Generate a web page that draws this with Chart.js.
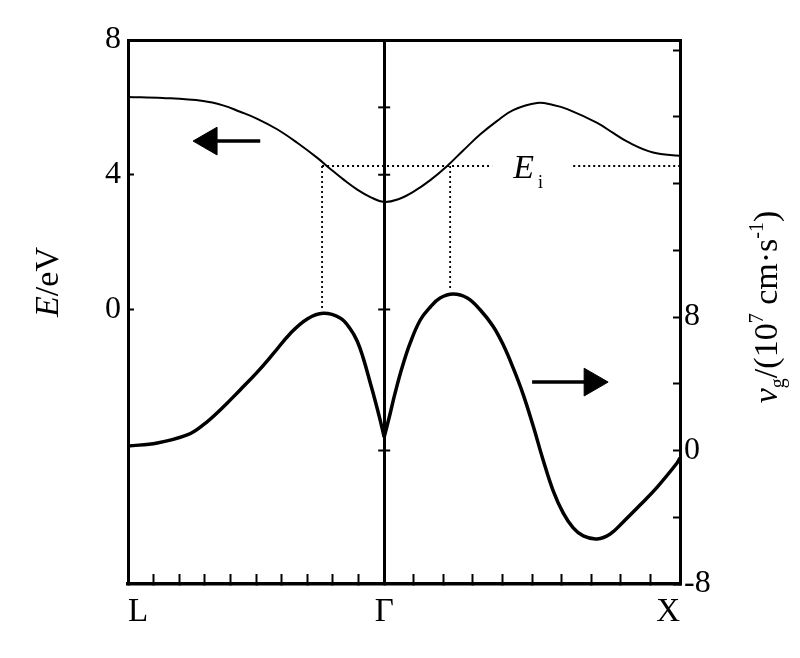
<!DOCTYPE html>
<html>
<head>
<meta charset="utf-8">
<script src="https://cdn.jsdelivr.net/npm/chart.js@4.4.1/dist/chart.umd.min.js"></script>
<style>
html, body { margin: 0; padding: 0; background: #fff; }
#wrap { width: 800px; height: 658px; position: relative; }
</style>
</head>
<body>
<div id="wrap"><canvas id="chart"></canvas></div>
<script>
// --- k axis: L -> Γ -> X ---
const kL = -0.866, kG = 0, kX = 1;
const xTickNames = ['L', 'Γ', 'X'];

// --- band E(k), left axis (eV) ---
const kBand = [-0.866, -0.749, -0.612, -0.545, -0.487, -0.429, -0.362, -0.294, -0.226, -0.183, -0.135, -0.091, -0.045, 0,
               0.050, 0.098, 0.156, 0.213, 0.267, 0.325, 0.382, 0.436, 0.517, 0.571, 0.619, 0.720, 0.774, 0.822, 0.909, 1.0];
const eBand = [6.31, 6.28, 6.19, 6.06, 5.87, 5.66, 5.35, 4.95, 4.50, 4.18, 3.84, 3.56, 3.33, 3.19,
               3.28, 3.49, 3.84, 4.26, 4.72, 5.20, 5.60, 5.92, 6.13, 6.07, 5.95, 5.54, 5.24, 4.98, 4.66, 4.56];

// --- group velocity, right axis (10^7 cm/s) ---
const kVgLeft = [-0.866, -0.767, -0.666, -0.612, -0.544, -0.487, -0.429, -0.375, -0.318, -0.260, -0.206,
                 -0.149, -0.115, -0.091, -0.071, -0.047, -0.030, -0.014, 0];
const vgLeft  = [0.27, 0.45, 0.93, 1.53, 2.61, 3.63, 4.70, 5.80, 7.00, 7.88, 8.22,
                 7.94, 7.30, 6.55, 5.55, 4.05, 2.95, 1.85, 0.80];
const kVgRight = [0, 0.020, 0.037, 0.061, 0.088, 0.122, 0.156, 0.189, 0.233, 0.281, 0.325, 0.368, 0.402, 0.436,
                  0.470, 0.504, 0.537, 0.571, 0.605, 0.639, 0.673, 0.720, 0.764, 0.808, 0.865, 0.923, 0.990, 1.0];
const vgRight  = [0.80, 2.20, 3.45, 5.00, 6.45, 7.82, 8.60, 9.14, 9.38, 9.14, 8.42, 7.45, 6.35, 4.95,
                  3.35, 1.45, -0.55, -2.40, -3.74, -4.64, -5.12, -5.30, -5.00, -4.28, -3.27, -2.19, -0.75, -0.45];

// --- threshold E_i and drop lines to the v_g peaks ---
const eIon = 4.26;
const kIonA = [-0.21, 0.365], kIonB = [0.639, 1.0];
const kDropL = -0.21, eDropL = 0.0;
const kDropR = 0.223, eDropR = 0.58;
const kIonLabel = 0.436, eIonLabel = 3.90;

// small marks on the Γ line
const gammaMarksE = [6, 4, 0];
const gammaMarksVg = [0];

// --- arrows (which axis each curve belongs to) ---
const arrowE  = { k: [-0.419, -0.592], y: 5.0 };
const arrowVg = { k: [0.500, 0.703], y: 4.1 };

// --- ticks ---
const yLeftTicks = [0, 4, 8];
const yRightTicks = [-8, -4, 0, 4, 8, 12, 16, 20, 24];
const yRightShown = [-8, 0, 8];

const kTicks = [];
for (let i = 0; i <= 10; i++) kTicks.push(kL * (1 - i / 10));
for (let i = 1; i <= 10; i++) kTicks.push(kX * i / 10);

const zip = (xs, ys) => xs.map((x, i) => ({ x: x, y: ys[i] }));
const isGamma = (c) => c.tick && Math.abs(c.tick.value - kG) < 1e-9;
const serif = "'Liberation Serif', serif";

function xLabel(v) {
    if (Math.abs(v - kL) < 1e-6) return xTickNames[0];
    if (Math.abs(v - kG) < 1e-6) return xTickNames[1];
    if (Math.abs(v - kX) < 1e-6) return xTickNames[2];
    return '';
}

// rich text (italic / sub / sup) for axis titles and E_i
function drawRich(ctx, parts, cx, cy, vertical, centered) {
    ctx.save();
    ctx.fillStyle = '#000';
    ctx.textBaseline = 'alphabetic';
    ctx.textAlign = 'left';
    let total = 0;
    parts.forEach(p => { ctx.font = p.font; p.w = ctx.measureText(p.text).width + (p.dx || 0); total += p.w; });
    ctx.translate(cx, cy);
    if (vertical) ctx.rotate(-Math.PI / 2);
    let x = centered ? -total / 2 : 0;
    parts.forEach(p => { ctx.font = p.font; ctx.fillText(p.text, x + (p.dx || 0), p.dy || 0); x += p.w; });
    ctx.restore();
}

const titlesPlugin = {
    id: 'titles',
    afterDraw(chart) {
        const ctx = chart.ctx, a = chart.chartArea;
        const midY = (a.top + a.bottom) / 2;
        drawRich(ctx, [
            { text: 'E', font: 'italic 34px ' + serif },
            { text: '/eV', font: '34px ' + serif }
        ], 58, midY - 30, true, true);
        drawRich(ctx, [
            { text: 'v', font: 'italic 34px ' + serif },
            { text: 'g', font: '20px ' + serif, dy: 7 },
            { text: '/(10', font: '34px ' + serif },
            { text: '7', font: '20px ' + serif, dy: -14 },
            { text: ' cm·s', font: '34px ' + serif },
            { text: '-1', font: '20px ' + serif, dy: -14 },
            { text: ')', font: '34px ' + serif }
        ], a.right + 97, midY - 5, true, true);
        const x = chart.scales.x.getPixelForValue(kIonLabel);
        const y = chart.scales.y.getPixelForValue(eIonLabel);
        drawRich(ctx, [
            { text: 'E', font: 'italic 34px ' + serif },
            { text: 'i', font: '18px ' + serif, dy: 10, dx: 4 }
        ], x, y, false, false);
    }
};

const dotted = { borderColor: '#000', borderWidth: 1.8, borderDash: [2, 3], pointRadius: 0, yAxisID: 'y' };
const curve = { borderColor: '#000', pointRadius: 0, tension: 0.4 };
const marks = { showLine: false, pointStyle: 'line', pointRadius: 6, pointBorderWidth: 2, pointBorderColor: '#000' };

new Chart(document.getElementById('chart'), {
    type: 'line',
    data: {
        datasets: [
            Object.assign({ data: zip(kBand, eBand), yAxisID: 'y', borderWidth: 2 }, curve),
            Object.assign({ data: zip(kVgLeft, vgLeft), yAxisID: 'y2', borderWidth: 3.5 }, curve),
            Object.assign({ data: zip(kVgRight, vgRight), yAxisID: 'y2', borderWidth: 3.5 }, curve),
            Object.assign({ data: zip(kIonA, [eIon, eIon]) }, dotted),
            Object.assign({ data: zip(kIonB, [eIon, eIon]) }, dotted),
            Object.assign({ data: zip([kDropL, kDropL], [eIon, eDropL]) }, dotted),
            Object.assign({ data: zip([kDropR, kDropR], [eIon, eDropR]) }, dotted),
            Object.assign({ data: gammaMarksE.map(v => ({ x: kG, y: v })), yAxisID: 'y' }, marks),
            Object.assign({ data: gammaMarksVg.map(v => ({ x: kG, y: v })), yAxisID: 'y2' }, marks),
            { data: zip(arrowE.k, [arrowE.y, arrowE.y]), yAxisID: 'y', borderColor: '#000', borderWidth: 3.5,
              pointRadius: [0, 16], pointStyle: 'triangle', pointRotation: [0, -90], pointBackgroundColor: '#000', pointBorderColor: '#000', pointBorderWidth: 1 },
            { data: zip(arrowVg.k, [arrowVg.y, arrowVg.y]), yAxisID: 'y2', borderColor: '#000', borderWidth: 3.5,
              pointRadius: [0, 16], pointStyle: 'triangle', pointRotation: [0, 90], pointBackgroundColor: '#000', pointBorderColor: '#000', pointBorderWidth: 1 }
        ]
    },
    options: {
        responsive: true,
        maintainAspectRatio: false,
        animation: false,
        layout: { padding: 0 },
        plugins: { legend: { display: false }, tooltip: { enabled: false } },
        scales: {
            x: {
                type: 'linear', position: 'bottom', min: kL, max: kX,
                afterBuildTicks: s => { s.ticks = kTicks.map(v => ({ value: v })); },
                afterFit: s => { s.height = 74; },
                grid: {
                    drawOnChartArea: true,
                    color: c => isGamma(c) ? '#000' : 'rgba(0,0,0,0)',
                    lineWidth: c => isGamma(c) ? 3 : 1,
                    tickColor: '#000', tickWidth: 2, tickLength: -10
                },
                border: { color: '#000', width: 3.5 },
                ticks: { autoSkip: false, maxRotation: 0, align: 'inner', padding: 19, color: '#000',
                         font: { family: serif, size: 33 }, callback: v => xLabel(v) }
            },
            xTop: {
                type: 'linear', position: 'top',
                afterFit: s => { s.height = 40; },
                grid: { display: false, drawTicks: false },
                border: { color: '#000', width: 3 },
                ticks: { display: false }
            },
            y: {
                position: 'left', min: -8.15, max: 8,
                afterBuildTicks: s => { s.ticks = yLeftTicks.map(v => ({ value: v })); },
                afterFit: s => { s.width = 128; },
                grid: { drawOnChartArea: false, tickColor: '#000', tickWidth: 2, tickLength: -6 },
                border: { color: '#000', width: 3 },
                ticks: { padding: 13, color: '#000', font: { family: serif, size: 32 }, callback: v => String(v) }
            },
            y2: {
                position: 'right', min: -8, max: 24.6,
                afterBuildTicks: s => { s.ticks = yRightTicks.map(v => ({ value: v })); },
                afterFit: s => { s.width = 120; },
                grid: { drawOnChartArea: false, tickColor: '#000', tickWidth: 2, tickLength: -7 },
                border: { color: '#000', width: 3 },
                ticks: { padding: 11, color: '#000', font: { family: serif, size: 32 },
                         callback: v => yRightShown.includes(v) ? String(v) : '' }
            }
        }
    },
    plugins: [titlesPlugin]
});
</script>
</body>
</html>
